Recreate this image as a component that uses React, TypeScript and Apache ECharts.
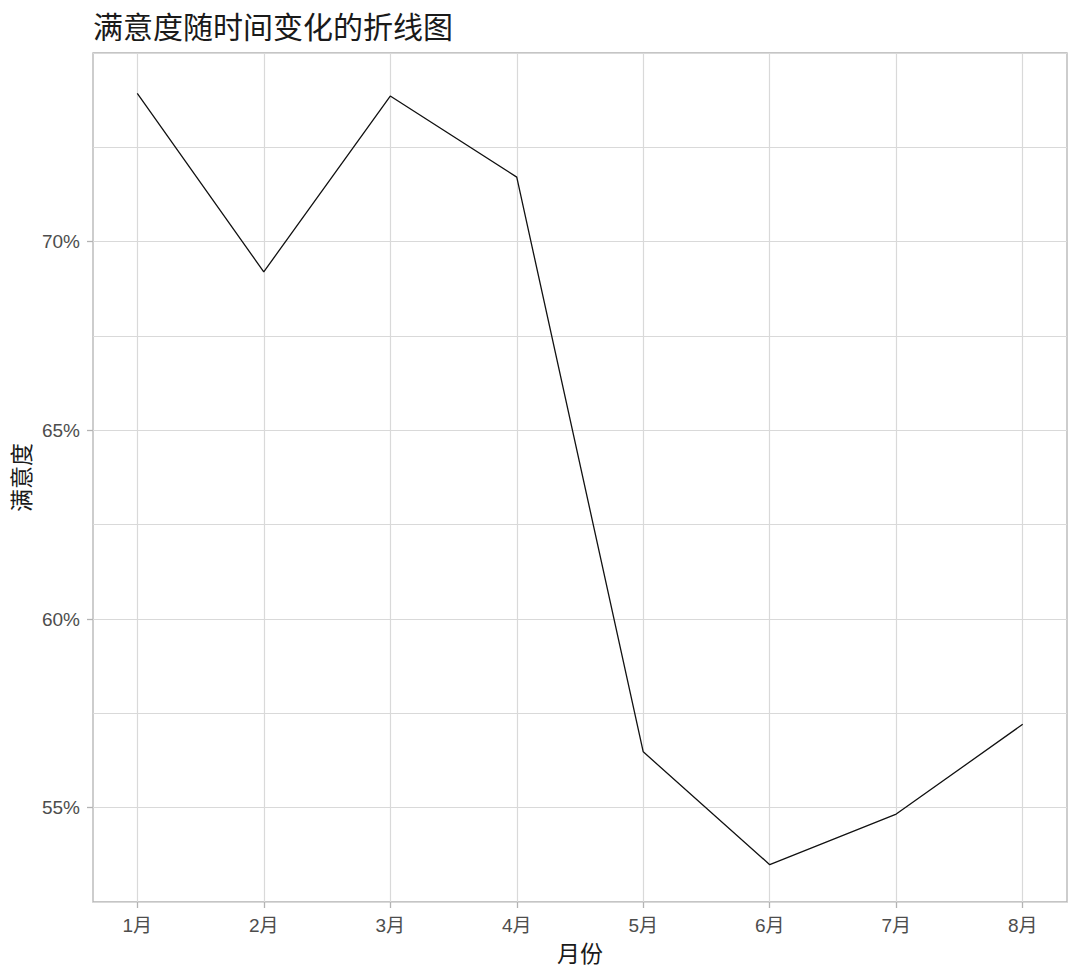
import React, { useEffect, useRef } from "react";
import * as echarts from "echarts";

const months = [1, 2, 3, 4, 5, 6, 7, 8];
const satisfaction = [73.93, 69.2, 73.86, 71.71, 56.48, 53.49, 54.83, 57.21];
const yTickValues = [55, 60, 65, 70];

const TICK_FONT = "'Liberation Sans', Arial, 'Noto Sans CJK SC', sans-serif";
const CJK_FONT = "'Noto Sans CJK SC', 'Liberation Sans', sans-serif";

export default function App() {
  const ref = useRef<HTMLDivElement>(null);

  useEffect(() => {
    if (!ref.current) return;
    const chart = echarts.init(ref.current, undefined, { renderer: "svg" });
    const data = months.map((m, i) => [m, satisfaction[i]]);
    chart.setOption({
      animation: false,
      backgroundColor: "#ffffff",
      title: {
        text: "满意度随时间变化的折线图",
        left: 93,
        top: 10,
        padding: 0,
        textStyle: {
          fontFamily: CJK_FONT,
          fontSize: 30,
          fontWeight: "normal",
          color: "#1a1a1a",
        },
      },
      grid: {
        left: 93,
        right: 13,
        top: 53,
        bottom: 74,
        show: true,
        borderColor: "#b3b3b3",
        borderWidth: 1.3,
        backgroundColor: "transparent",
        outerBoundsMode: "none",
      },
      xAxis: {
        type: "value",
        min: 0.65,
        max: 8.35,
        name: "月份",
        nameLocation: "middle",
        nameGap: 38,
        nameTextStyle: { fontFamily: CJK_FONT, fontSize: 23, color: "#1a1a1a" },
        axisLine: { show: false },
        axisTick: {
          show: true,
          customValues: months,
          length: 6,
          lineStyle: { color: "#b3b3b3", width: 1.3 },
        },
        axisLabel: {
          customValues: months,
          formatter: (v: number) => `${v}月`,
          margin: 14,
          fontFamily: TICK_FONT,
          fontSize: 19,
          color: "#4d4d4d",
        },
        splitLine: { show: true, lineStyle: { color: "#d9d9d9", width: 1.2 } },
      },
      yAxis: [
        {
          type: "value",
          min: 52.5,
          max: 75,
          interval: 2.5,
          axisLine: { show: false },
          axisTick: { show: false },
          axisLabel: { show: false },
          splitLine: { show: true, lineStyle: { color: "#d9d9d9", width: 1.2 } },
        },
        {
          type: "value",
          min: 52.5,
          max: 75,
          position: "left",
          name: "满意度",
          nameLocation: "middle",
          nameGap: 60,
          nameRotate: 90,
          nameTextStyle: { fontFamily: CJK_FONT, fontSize: 23, color: "#1a1a1a" },
          axisLine: { show: false },
          axisTick: {
            show: true,
            customValues: yTickValues,
            length: 6,
            lineStyle: { color: "#b3b3b3", width: 1.3 },
          },
          axisLabel: {
            customValues: yTickValues,
            formatter: (v: number) => `${v}%`,
            margin: 13,
            fontFamily: TICK_FONT,
            fontSize: 19,
            color: "#4d4d4d",
          },
          splitLine: { show: false },
        },
      ],
      series: [
        {
          type: "line",
          data,
          xAxisIndex: 0,
          yAxisIndex: 0,
          showSymbol: false,
          symbol: "none",
          lineStyle: { color: "#111111", width: 1.3 },
        },
      ],
    });
    return () => chart.dispose();
  }, []);

  return (
    <div
      ref={ref}
      style={{ position: "fixed", left: 0, top: 0, width: 1080, height: 976, background: "#fff" }}
    />
  );
}
